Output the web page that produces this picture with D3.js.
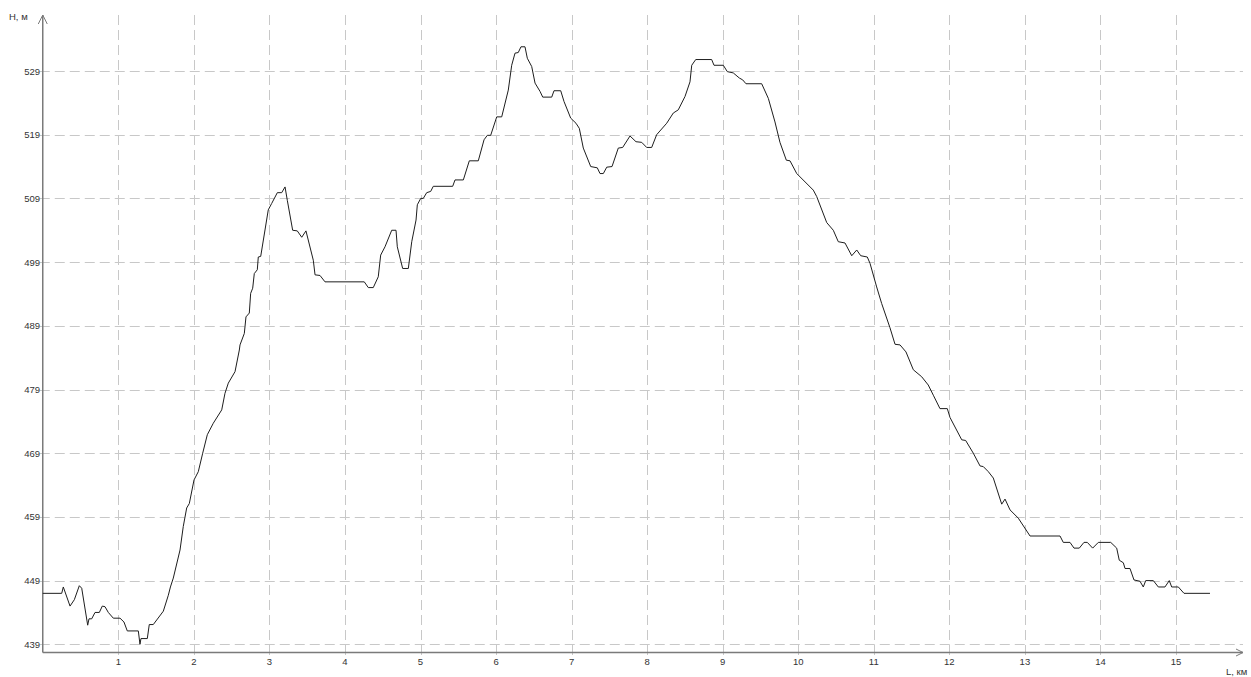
<!DOCTYPE html>
<html lang="ru">
<head>
    <meta charset="UTF-8">
    <title>Профиль высот</title>
    <script src="https://d3js.org/d3.v7.min.js"></script>
    <style>
        body, html {
            margin: 0;
            padding: 0;
            background: #fff;
            overflow: hidden;
        }
        text {
            font-family: "Liberation Sans", Arial, sans-serif;
            font-size: 9.5px;
            fill: #333;
        }
    </style>
</head>
<body>
    <div id="chart"></div>
    <script>
        // Distance along the route, km
        const distanceKm = [
            0, 0.251, 0.272, 0.361, 0.418, 0.484, 0.516, 0.595, 0.612, 0.648,
            0.692, 0.749, 0.788, 0.824, 0.868, 0.934, 1.023, 1.075, 1.119, 1.265,
            1.287, 1.300, 1.384, 1.410, 1.463, 1.596, 1.662, 1.690, 1.728, 1.817,
            1.860, 1.905, 1.940, 2.002, 2.059, 2.117, 2.178, 2.257, 2.369, 2.412,
            2.456, 2.545, 2.602, 2.611, 2.668, 2.690, 2.734, 2.752, 2.779, 2.800,
            2.840, 2.853, 2.885, 2.985, 3.030, 3.105, 3.163, 3.207, 3.237, 3.308,
            3.369, 3.428, 3.484, 3.581, 3.604, 3.670, 3.736, 4.256, 4.309, 4.375,
            4.441, 4.473, 4.530, 4.619, 4.676, 4.693, 4.764, 4.839, 4.884, 4.941,
            4.958, 5.003, 5.037, 5.082, 5.135, 5.169, 5.426, 5.457, 5.567, 5.646,
            5.765, 5.841, 5.884, 5.929, 6.009, 6.075, 6.162, 6.207, 6.251, 6.294,
            6.330, 6.383, 6.414, 6.472, 6.516, 6.582, 6.618, 6.737, 6.767, 6.856,
            6.900, 6.988, 7.058, 7.102, 7.155, 7.253, 7.340, 7.376, 7.420, 7.465,
            7.535, 7.618, 7.676, 7.773, 7.852, 7.928, 7.994, 8.060, 8.126, 8.259,
            8.346, 8.412, 8.501, 8.567, 8.590, 8.643, 8.854, 8.885, 9.008, 9.061,
            9.140, 9.220, 9.265, 9.308, 9.516, 9.604, 9.692, 9.758, 9.842, 9.891,
            9.980, 10.199, 10.244, 10.377, 10.464, 10.530, 10.619, 10.708, 10.774, 10.827,
            10.914, 10.950, 11.038, 11.104, 11.214, 11.281, 11.347, 11.426, 11.523, 11.634,
            11.721, 11.788, 11.876, 11.973, 12.009, 12.164, 12.216, 12.317, 12.406, 12.449,
            12.516, 12.582, 12.693, 12.737, 12.803, 12.913, 13.068, 13.465, 13.508, 13.597,
            13.650, 13.720, 13.782, 13.826, 13.897, 13.972, 14.136, 14.215, 14.249, 14.303,
            14.325, 14.391, 14.444, 14.523, 14.567, 14.599, 14.700, 14.766, 14.854, 14.911,
            14.943, 15.031, 15.106, 15.450
        ];

        // Height, m
        const heightM = [
            447.0, 447.0, 448.0, 445.0, 446.0, 448.2, 447.8, 442.0, 443.0, 443.0,
            444.0, 444.0, 445.0, 444.9, 444.0, 443.1, 443.1, 442.5, 441.1, 441.1,
            439.0, 439.9, 439.9, 442.1, 442.1, 444.2, 446.7, 448.0, 449.4, 453.8,
            457.5, 460.4, 461.1, 464.8, 466.1, 469.0, 471.9, 473.7, 475.8, 478.4,
            480.0, 481.8, 485.2, 486.0, 487.8, 490.4, 491.0, 494.1, 494.9, 497.2,
            497.8, 499.8, 499.9, 507.2, 508.2, 509.9, 509.9, 510.8, 508.7, 504.0,
            503.9, 502.9, 503.9, 499.3, 497.0, 496.9, 495.9, 495.9, 495.0, 495.0,
            496.7, 500.1, 501.4, 504.0, 504.0, 501.4, 498.0, 498.0, 502.2, 505.6,
            508.0, 509.0, 509.0, 509.9, 510.1, 510.9, 510.9, 511.9, 511.9, 514.9,
            514.9, 518.2, 518.9, 518.9, 521.8, 521.8, 526.0, 529.9, 531.8, 531.9,
            532.8, 532.8, 531.0, 529.7, 527.1, 525.8, 524.9, 524.9, 525.9, 525.9,
            524.2, 521.6, 520.8, 520.0, 516.9, 514.0, 513.8, 512.9, 512.9, 513.9,
            514.0, 516.9, 517.0, 518.8, 517.9, 517.8, 517.0, 517.0, 519.0, 520.8,
            522.4, 522.9, 525.0, 527.3, 529.9, 530.8, 530.8, 529.9, 529.9, 528.9,
            528.7, 527.9, 527.6, 527.0, 527.0, 524.7, 521.0, 517.8, 515.0, 514.9,
            512.9, 510.3, 509.3, 505.2, 504.0, 502.2, 502.0, 500.0, 500.9, 500.0,
            499.8, 498.8, 495.1, 492.5, 488.7, 486.1, 486.0, 484.9, 482.1, 481.0,
            479.7, 478.1, 476.0, 476.0, 474.6, 471.1, 471.0, 469.0, 467.0, 466.9,
            466.1, 465.1, 461.0, 461.8, 460.1, 458.8, 456.0, 456.0, 455.0, 455.0,
            454.1, 454.1, 455.0, 455.0, 454.1, 455.0, 455.0, 454.1, 452.2, 451.8,
            450.9, 450.9, 449.1, 448.9, 448.0, 449.0, 449.0, 448.0, 448.0, 449.0,
            448.0, 448.0, 447.0, 447.0
        ];

        const xTicks = [1, 2, 3, 4, 5, 6, 7, 8, 9, 10, 11, 12, 13, 14, 15];
        const yTicks = [439, 449, 459, 469, 479, 489, 499, 509, 519, 529];
        const yTitle = "Н, м";
        const xTitle = "L, км";

        const width = 1251;
        const height = 677;

        const svg = d3.select("#chart")
            .append("svg")
            .attr("width", width)
            .attr("height", height);

        // Scales
        const x = d3.scaleLinear().domain([0, 15]).range([42.75, 1176]);
        const y = d3.scaleLinear().domain([439, 529]).range([644.3, 71]);

        const originX = 42.75;
        const originY = 652.5;
        const topY = 15;
        const rightX = 1243;

        // Grid
        const grid = svg.append("g")
            .attr("stroke", "#c8c8c8")
            .attr("stroke-width", 1)
            .attr("stroke-dasharray", "10,5");

        grid.selectAll(".vgrid")
            .data(xTicks)
            .enter()
            .append("line")
            .attr("class", "vgrid")
            .attr("x1", d => Math.round(x(d)) + 0.5)
            .attr("x2", d => Math.round(x(d)) + 0.5)
            .attr("y1", topY)
            .attr("y2", originY + 4);

        grid.selectAll(".hgrid")
            .data(yTicks)
            .enter()
            .append("line")
            .attr("class", "hgrid")
            .attr("x1", originX - 3)
            .attr("x2", rightX)
            .attr("y1", d => Math.round(y(d)) + 0.5)
            .attr("y2", d => Math.round(y(d)) + 0.5);

        // Tick labels
        svg.selectAll(".xlabel")
            .data(xTicks)
            .enter()
            .append("text")
            .attr("class", "xlabel")
            .attr("x", d => x(d))
            .attr("y", 665)
            .attr("text-anchor", "middle")
            .text(d => d);

        svg.selectAll(".ylabel")
            .data(yTicks)
            .enter()
            .append("text")
            .attr("class", "ylabel")
            .attr("x", 40)
            .attr("y", d => y(d) + 3.5)
            .attr("text-anchor", "end")
            .text(d => d);

        // Axes with arrows
        const axis = svg.append("g")
            .attr("stroke", "#7a7a7a")
            .attr("stroke-width", 1.5)
            .attr("fill", "none");

        axis.append("line")
            .attr("x1", originX).attr("y1", originY)
            .attr("x2", originX).attr("y2", topY);
        axis.append("path")
            .attr("d", `M${originX - 4.5},${topY + 9} L${originX},${topY} L${originX + 4.5},${topY + 9}`)
            .attr("stroke-width", 1);

        axis.append("line")
            .attr("x1", originX).attr("y1", originY)
            .attr("x2", rightX).attr("y2", originY);
        axis.append("path")
            .attr("d", `M${rightX - 7},${originY - 3.5} L${rightX},${originY} L${rightX - 7},${originY + 3.5}`)
            .attr("stroke-width", 1);

        // Axis titles
        svg.append("text")
            .attr("x", 9)
            .attr("y", 20)
            .text(yTitle);

        svg.append("text")
            .attr("x", 1226)
            .attr("y", 675)
            .text(xTitle);

        // Elevation profile
        const points = distanceKm.map((d, i) => [d, heightM[i]]);

        const line = d3.line()
            .x(d => x(d[0]))
            .y(d => y(d[1]));

        svg.append("path")
            .datum(points)
            .attr("d", line)
            .attr("fill", "none")
            .attr("stroke", "#1e1e1e")
            .attr("stroke-width", 1);
    </script>
</body>
</html>
